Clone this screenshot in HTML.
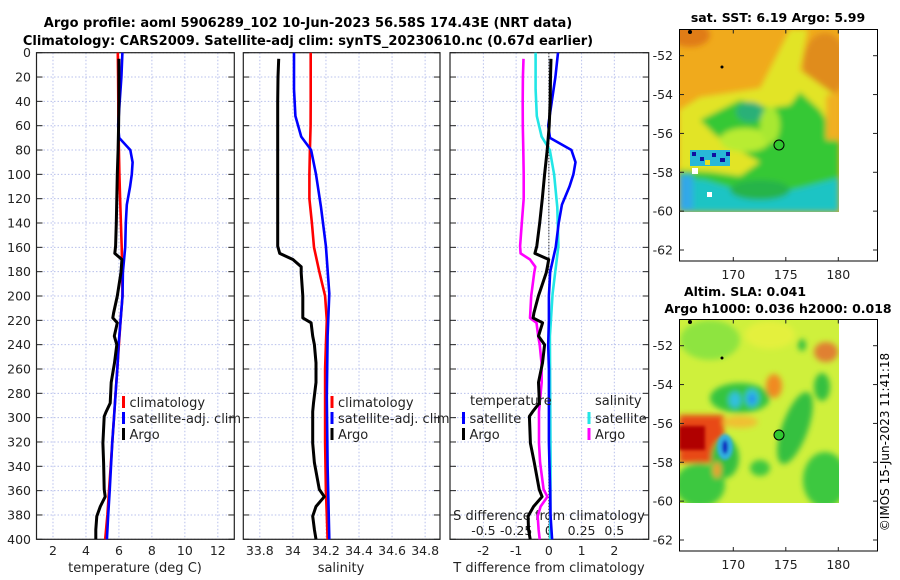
<!DOCTYPE html>
<html><head><meta charset="utf-8"><style>
html,body{margin:0;padding:0;background:#fff;}
svg{display:block;font-family:"DejaVu Sans","Liberation Sans",sans-serif;}
</style></head><body>
<svg id="chart" width="900" height="580" viewBox="0 0 900 580" xmlns="http://www.w3.org/2000/svg">
<defs>
<filter id="blur3" x="-20%" y="-20%" width="140%" height="140%"><feGaussianBlur stdDeviation="3"/></filter>
<filter id="blur2" x="-20%" y="-20%" width="140%" height="140%"><feGaussianBlur stdDeviation="1.6"/></filter>
<clipPath id="clipTop"><rect x="679" y="29" width="160" height="183"/></clipPath>
<clipPath id="clipBot"><rect x="679" y="319" width="160" height="184"/></clipPath>
</defs>
<text x="308" y="27" text-anchor="middle" font-size="13" font-weight="bold">Argo profile: aoml 5906289_102 10-Jun-2023 56.58S 174.43E (NRT data)</text>
<text x="308" y="45" text-anchor="middle" font-size="13" font-weight="bold">Climatology: CARS2009. Satellite-adj clim: synTS_20230610.nc (0.67d earlier)</text>

<g>
<text x="778" y="22" text-anchor="middle" font-size="12.5" font-weight="bold">sat. SST: 6.19 Argo: 5.99</text>
<g clip-path="url(#clipTop)">
<rect x="679" y="29" width="160" height="183" fill="#f0aa1c"/>
<g filter="url(#blur3)">
<ellipse cx="690" cy="35" rx="20" ry="12" fill="#e07c18"/>
<ellipse cx="825" cy="65" rx="22" ry="32" fill="#e08c1c"/>
<polygon points="679,110 700,97 760,88 790,29 808,29 800,70 839,98 839,212 679,212" fill="#e2e426"/>
<polygon points="700,120 740,100 770,108 790,105 800,92 820,110 839,140 839,212 679,212 679,170 712,172 740,176 760,162 735,148 715,135" fill="#34c834"/>
<ellipse cx="750" cy="112" rx="14" ry="10" fill="#2cb078"/>
<ellipse cx="745" cy="140" rx="25" ry="12" fill="#b8ec30"/>
<ellipse cx="770" cy="125" rx="10" ry="18" fill="#a8e830"/>
<polygon points="679,178 705,180 760,197 800,188 839,178 839,212 679,212" fill="#1cc4c4"/>
<ellipse cx="760" cy="190" rx="30" ry="10" fill="#28b448"/>
<rect x="826" y="95" width="13" height="45" fill="#f0b020"/>
<rect x="679" y="175" width="14" height="35" fill="#30a8e8"/>
</g>
<rect x="690" y="150" width="40" height="16" fill="#28b8d8"/>
<rect x="692" y="152" width="4" height="4" fill="#1010a0"/><rect x="700" y="157" width="4" height="4" fill="#1010a0"/><rect x="712" y="153" width="4" height="4" fill="#1010a0"/><rect x="720" y="158" width="5" height="4" fill="#1010a0"/><rect x="726" y="152" width="4" height="4" fill="#1010a0"/>
<rect x="705" y="160" width="5" height="5" fill="#e8e020"/><rect x="692" y="168" width="6" height="6" fill="#ffffff"/><rect x="707" y="192" width="5" height="5" fill="#ffffff"/>
<circle cx="690" cy="32" r="2" fill="#000"/><circle cx="722" cy="67" r="1.5" fill="#000"/>
</g>
<rect x="679.5" y="29.5" width="198" height="231.5" fill="none" stroke="#000" stroke-width="1"/>
<circle cx="779" cy="145" r="5" fill="#30c830" stroke="#000" stroke-width="1"/>
<g id="topMapTicks"></g>
</g>

<g>
<text x="745" y="296" text-anchor="middle" font-size="12.5" font-weight="bold">Altim. SLA: 0.041</text>
<text x="778" y="313" text-anchor="middle" font-size="12.5" font-weight="bold">Argo h1000: 0.036 h2000: 0.018</text>
<g clip-path="url(#clipBot)">
<rect x="679" y="319" width="160" height="184" fill="#cff03c"/>
<g filter="url(#blur3)">
<ellipse cx="710" cy="340" rx="30" ry="20" fill="#8ee440"/>
<ellipse cx="770" cy="335" rx="25" ry="14" fill="#e4f03c"/>
<ellipse cx="740" cy="398" rx="30" ry="15" fill="#34c440"/>
<ellipse cx="735" cy="400" rx="6" ry="8" fill="#30c0e0"/>
<ellipse cx="752" cy="398" rx="7" ry="9" fill="#30c0e0"/>
<ellipse cx="752" cy="399" rx="3" ry="5" fill="#2080f0"/>
<rect x="679" y="415" width="45" height="48" fill="#e84818"/>
<ellipse cx="774" cy="386" rx="8" ry="12" fill="#f08a20"/>
<ellipse cx="795" cy="428" rx="13" ry="38" transform="rotate(20 795 428)" fill="#34c040"/>
<ellipse cx="826" cy="352" rx="12" ry="10" fill="#e08030"/>
<ellipse cx="822" cy="387" rx="8" ry="14" fill="#34c040"/>
<ellipse cx="740" cy="422" rx="18" ry="6" fill="#f0c030"/>
<ellipse cx="700" cy="485" rx="25" ry="22" fill="#3cc840"/>
<ellipse cx="825" cy="480" rx="22" ry="28" fill="#3cc840"/>
<ellipse cx="760" cy="468" rx="10" ry="8" fill="#3cc840"/>
<ellipse cx="725" cy="458" rx="14" ry="20" fill="#34c040"/>
<ellipse cx="717" cy="470" rx="4" ry="8" fill="#f0a030"/>
<ellipse cx="802" cy="345" rx="4" ry="6" fill="#34c040"/>
</g>
<g filter="url(#blur2)">
<rect x="679" y="426" width="26" height="24" fill="#b00000"/>
<ellipse cx="725" cy="447" rx="8" ry="13" fill="#30b0e0"/>
<ellipse cx="725" cy="447" rx="3" ry="7" fill="#1020c0"/>
</g>
<circle cx="690" cy="322" r="2" fill="#000"/><circle cx="722" cy="358" r="1.5" fill="#000"/>
</g>
<rect x="679.5" y="319.5" width="198" height="231.5" fill="none" stroke="#000" stroke-width="1"/>
<circle cx="779" cy="435" r="5" fill="#30c830" stroke="#000" stroke-width="1"/>
<g id="botMapTicks"></g>
</g>
<text transform="translate(889,442) rotate(-90)" text-anchor="middle" font-size="12">©IMOS 15-Jun-2023 11:41:18</text>
<g id="plots"></g>
</svg>
<script>
const climDepth = [0,20,40,60,80,100,120,140,160,180,200,220,240,260,280,300,320,340,360,380,400];
const climT = [5.93,5.95,5.96,5.97,6.0,6.03,6.07,6.12,6.17,6.2,6.22,6.1,6.0,5.9,5.8,5.7,5.6,5.5,5.4,5.3,5.17];
const climS = [34.108,34.108,34.108,34.107,34.103,34.1,34.1,34.115,34.128,34.16,34.195,34.205,34.2,34.195,34.195,34.195,34.195,34.197,34.2,34.205,34.21];
const satTDepth = [0,20,40,60,70,80,90,100,110,125,140,160,180,200,220,240,260,280,300,320,340,360,380,400];
const satT = [6.21,6.15,6.05,5.95,6.02,6.69,6.83,6.78,6.68,6.48,6.42,6.38,6.24,6.22,6.1,5.98,5.9,5.8,5.7,5.6,5.52,5.44,5.35,5.27];
const satSDepth = [0,30,52,69,80,100,127,159,198,233,283,340,400];
const satS = [34.007,34.007,34.015,34.05,34.11,34.14,34.17,34.2,34.22,34.21,34.205,34.21,34.22];
const argoDepth = [5,20,40,60,80,100,120,140,159,165,170,176,181,200,214,218,222,233,240,255,271,288,295,299,321,337,359,365,373,381,392,400];
const argoT = [6.0,6.0,6.0,5.98,5.95,5.9,5.87,5.84,5.8,5.75,6.18,6.15,6.12,5.9,5.68,5.63,5.9,5.72,5.87,5.73,5.53,5.47,5.23,5.11,5.03,5.07,5.11,5.17,4.87,4.66,4.6,4.6];
const argoS = [33.914,33.91,33.908,33.908,33.908,33.908,33.908,33.908,33.908,33.92,34.0,34.05,34.05,34.06,34.06,34.06,34.11,34.12,34.13,34.14,34.14,34.125,34.12,34.12,34.12,34.13,34.16,34.19,34.14,34.12,34.13,34.14];
const depthTicks = [0,20,40,60,80,100,120,140,160,180,200,220,240,260,280,300,320,340,360,380,400];
const tTicks = [2,4,6,8,10,12];
const sTicks = [33.8,34,34.2,34.4,34.6,34.8];
const dTTicks = [-2,-1,0,1,2];
const dSTicks = [-0.5,-0.25,0,0.25,0.5];
const dSTickLabels = ["-0.5","-0.25","0","0.25","0.5"];
const latTicks = [-52,-54,-56,-58,-60,-62];
const lonTicks = [170,175,180];

const NS = "http://www.w3.org/2000/svg";
const plots = document.getElementById('plots');
function mk(tag, attrs, parent){ const e=document.createElementNS(NS,tag); for(const k in attrs) e.setAttribute(k,attrs[k]); (parent||plots).appendChild(e); return e; }

const Y0=52.7, Y1=539.3;
const yScale = d => Y0 + (d/400)*(Y1-Y0);
function lin(d0,d1,r0,r1){ return v => r0 + (v-d0)/(d1-d0)*(r1-r0); }
const P1={x0:36.5,x1:234.3}, P2={x0:243.3,x1:440}, P3={x0:450,x1:648.7};
const xT = lin(1,13,P1.x0,P1.x1);
const xS = lin(33.70,34.89,P2.x0,P2.x1);
const xDT = lin(-3.02,3.05,P3.x0,P3.x1);
const xDS = lin(-0.755,0.7625,P3.x0,P3.x1);
function interp(ds, vs, d){
  if(d<=ds[0]) return vs[0];
  for(let i=1;i<ds.length;i++){ if(d<=ds[i]){ const t=(d-ds[i-1])/(ds[i]-ds[i-1]); return vs[i-1]+t*(vs[i]-vs[i-1]); } }
  return vs[vs.length-1];
}
function panelFrame(P, ticks, xs, name){
  const g=mk('g',{});
  
  
  ticks.forEach(t=>{ const x=xs(t);
    const l=mk('line',{x1:x,x2:x,y1:Y0,y2:Y1,stroke:'#b8c0ec','stroke-width':1,'stroke-dasharray':'1.5,2'},g);
    
    
  });
  depthTicks.forEach(d=>{ const y=yScale(d);
    const l=mk('line',{x1:P.x0,x2:P.x1,y1:y,y2:y,stroke:'#b8c0ec','stroke-width':1,'stroke-dasharray':'1.5,2'},g);
    
    
    mk('line',{x1:P.x0,x2:P.x0+6,y1:y,y2:y,stroke:'#222','stroke-width':1},g);
    mk('line',{x1:P.x1-6,x2:P.x1,y1:y,y2:y,stroke:'#222','stroke-width':1},g);
  });
  const r=mk('rect',{x:P.x0,y:Y0,width:P.x1-P.x0,height:Y1-Y0,fill:'none',stroke:'#222','stroke-width':1.2},g);
  
  
  return g;
}
function line(xs, ys, color, name, w){
  const pts = xs.map((x,i)=>x.toFixed(1)+','+ys[i].toFixed(1)).join(' ');
  const p=mk('polyline',{points:pts,fill:'none',stroke:color,'stroke-width':w||2.6,'stroke-linejoin':'round'});
  
  
  return p;
}
function txt(x,y,s,size,anchor,name){
  const t=mk('text',{x:x,y:y,'font-size':size,'text-anchor':anchor||'start',fill:'#222'});
  t.textContent=s;
  
  
  return t;
}

panelFrame(P1,tTicks,xT,'temperature');
panelFrame(P2,sTicks,xS,'salinity');
panelFrame(P3,dTTicks,xDT,'difference');
const zl=mk('line',{x1:xDT(0),x2:xDT(0),y1:Y0,y2:Y1,stroke:'#333','stroke-width':1,'stroke-dasharray':'1.5,1.5'});



depthTicks.forEach(d=>{ txt(31,yScale(d)+4.5,String(d),12.5,'end','depth-tick-label'); });
tTicks.forEach(t=>{ txt(xT(t),555,String(t),12.5,'middle','temperature-tick-label'); });
sTicks.forEach(t=>{ txt(xS(t),555,String(t),12.5,'middle','salinity-tick-label'); });
dTTicks.forEach(t=>{ txt(xDT(t),555,String(t),12.5,'middle','t-diff-tick-label'); });
dSTicks.forEach((t,i)=>{ txt(xDS(t),535,dSTickLabels[i],12.5,'middle','s-diff-tick-label'); });
txt(135,572,'temperature (deg C)',13,'middle','temperature-axis-title');
txt(341,572,'salinity',13,'middle','salinity-axis-title');
txt(549,572,'T difference from climatology',13,'middle','t-diff-axis-title');
txt(549,520,'S difference from climatology',13,'middle','s-diff-axis-title');

line(climT.map(xT), climDepth.map(yScale), '#ff0000','temp-climatology-line');
line(satT.map(xT), satTDepth.map(yScale), '#0000ff','temp-satellite-line');
line(argoT.map(xT), argoDepth.map(yScale), '#000000','temp-argo-line',3);
line(climS.map(xS), climDepth.map(yScale), '#ff0000','sal-climatology-line');
line(satS.map(xS), satSDepth.map(yScale), '#0000ff','sal-satellite-line');
line(argoS.map(xS), argoDepth.map(yScale), '#000000','sal-argo-line',3);
const dSat_T = satT.map((v,i)=>v-interp(climDepth,climT,satTDepth[i]));
const dArgo_T = argoT.map((v,i)=>v-interp(climDepth,climT,argoDepth[i]));
const dSat_S = satS.map((v,i)=>v-interp(climDepth,climS,satSDepth[i]));
const dArgo_S = argoS.map((v,i)=>v-interp(climDepth,climS,argoDepth[i]));
line(dSat_S.map(xDS), satSDepth.map(yScale), '#22e6e6','sdiff-satellite-line');
line(dArgo_S.map(xDS), argoDepth.map(yScale), '#ff00ff','sdiff-argo-line');
line(dSat_T.map(xDT), satTDepth.map(yScale), '#0000ff','tdiff-satellite-line');
line(dArgo_T.map(xDT), argoDepth.map(yScale), '#000000','tdiff-argo-line',3);

function legItem(mx,y,color,label,name){
  const r=mk('rect',{x:mx-1.5,y:y-6,width:3,height:12,fill:color});
  
  
  txt(mx+6,y+5,label,13,'start',name+'-label');
}
legItem(123.5,402,'#ff0000','climatology','legend-temp-climatology');
legItem(123.5,418,'#0000ff','satellite-adj. clim','legend-temp-satellite');
legItem(123.5,434,'#000000','Argo','legend-temp-argo');
legItem(332,402,'#ff0000','climatology','legend-sal-climatology');
legItem(332,418,'#0000ff','satellite-adj. clim','legend-sal-satellite');
legItem(332,434,'#000000','Argo','legend-sal-argo');
txt(470,405,'temperature',13,'start','legend-temperature-header');
txt(595,405,'salinity',13,'start','legend-salinity-header');
legItem(463.5,418,'#0000ff','satellite','legend-tdiff-satellite');
legItem(463.5,434,'#000000','Argo','legend-tdiff-argo');
legItem(589,418,'#22e6e6','satellite','legend-sdiff-satellite');
legItem(589,434,'#ff00ff','Argo','legend-sdiff-argo');

function mapTicks(gid, top, latRef, latScale, bottom){
  const g=document.getElementById(gid);
  latTicks.forEach(l=>{ const y=latRef + (-52-l)*latScale;
    mk('line',{x1:679.5,x2:684,y1:y,y2:y,stroke:'#222'},g);
    mk('line',{x1:873,x2:877.5,y1:y,y2:y,stroke:'#222'},g);
    const t=mk('text',{x:673,y:y+4.5,'font-size':12.5,'text-anchor':'end',fill:'#222'},g);
    t.textContent=String(l);
    
    
  });
  lonTicks.forEach(l=>{ const x=733.3+(l-170)*10.5;
    mk('line',{x1:x,x2:x,y1:top,y2:top+4,stroke:'#222'},g);
    mk('line',{x1:x,x2:x,y1:bottom-4,y2:bottom,stroke:'#222'},g);
    const t=mk('text',{x:x,y:bottom+18,'font-size':12.5,'text-anchor':'middle',fill:'#222'},g);
    t.textContent=String(l);
    
    
  });
}
mapTicks('topMapTicks',29.5,55.7,19.43,261);
mapTicks('botMapTicks',319.5,345.7,19.43,551);
</script>
</body></html>
